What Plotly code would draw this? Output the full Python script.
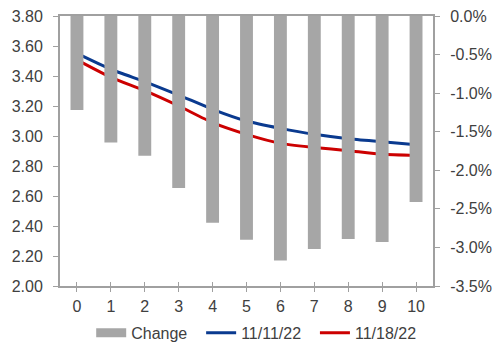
import plotly.graph_objects as go

# Tenor buckets (years) and the two yield curves plus their relative change
tenors = [0, 1, 2, 3, 4, 5, 6, 7, 8, 9, 10]
curve_1111 = [3.551, 3.445, 3.362, 3.273, 3.178, 3.100, 3.051, 3.011, 2.982, 2.962, 2.942]
curve_1118 = [3.507, 3.391, 3.302, 3.200, 3.089, 3.011, 2.951, 2.924, 2.902, 2.878, 2.871]
change_pct = [-1.22, -1.64, -1.81, -2.23, -2.68, -2.90, -3.17, -3.02, -2.89, -2.93, -2.41]

left_ticks = [2.0, 2.2, 2.4, 2.6, 2.8, 3.0, 3.2, 3.4, 3.6, 3.8]
right_ticks = [0.0, -0.5, -1.0, -1.5, -2.0, -2.5, -3.0, -3.5]

GRAY_BAR = "#A6A6A6"
BLUE = "#0A3A8F"
RED = "#CC0000"
AXIS = "#A0A0A0"
TEXT = "#404040"
FONT = "Liberation Sans, Arial, sans-serif"
FS = 16
PAD = "\u00a0\u00a0"  # extra room between legend entries

fig = go.Figure()

# Change bars hang from 0% on the right-hand axis
fig.add_trace(go.Bar(
    x=tenors, y=change_pct, xaxis="x", yaxis="y2",
    marker=dict(color=GRAY_BAR, line=dict(width=0)),
    width=0.38, showlegend=False, name="Change",
))

# Legend key for the bars, drawn as a wide block like the line keys
fig.add_trace(go.Scatter(
    x=[None], y=[None], mode="lines", xaxis="x2", yaxis="y",
    line=dict(color=GRAY_BAR, width=9), name="Change" + PAD,
))

fig.add_trace(go.Scatter(
    x=tenors, y=curve_1111, mode="lines", xaxis="x", yaxis="y",
    line=dict(color=BLUE, width=3, shape="spline", smoothing=0.6),
    name="11/11/22" + PAD,
))
fig.add_trace(go.Scatter(
    x=tenors, y=curve_1118, mode="lines", xaxis="x", yaxis="y",
    line=dict(color=RED, width=3, shape="spline", smoothing=0.6),
    name="11/18/22",
))

fig.update_layout(
    width=495, height=345,
    margin=dict(l=60, r=62, t=16, b=59, autoexpand=False),
    paper_bgcolor="white", plot_bgcolor="rgba(0,0,0,0)",
    font=dict(family=FONT, size=FS, color=TEXT),
    xaxis=dict(
        range=[-0.5, 10.5], tickmode="array", tickvals=tenors,
        ticktext=[str(t) for t in tenors],
        showgrid=False, zeroline=False, automargin=False,
        showline=True, linecolor=AXIS, linewidth=2, mirror=True,
        ticks="outside", ticklen=4, tickcolor=AXIS, tickwidth=1,
        ticklabelstandoff=1,
        tickfont=dict(size=FS, color=TEXT),
    ),
    # second x axis only supplies the inward half of the crossing ticks
    xaxis2=dict(
        overlaying="x", matches="x", range=[-0.5, 10.5],
        tickmode="array", tickvals=tenors, showticklabels=False,
        showgrid=False, zeroline=False, showline=False, automargin=False,
        ticks="inside", ticklen=4, tickcolor=AXIS, tickwidth=1,
    ),
    yaxis=dict(
        range=[2.0, 3.8], tickmode="array", tickvals=left_ticks,
        ticktext=[f"{v:.2f}" for v in left_ticks],
        showgrid=False, zeroline=False, automargin=False,
        showline=True, linecolor=AXIS, linewidth=2,
        ticks="outside", ticklen=5, tickcolor=AXIS, tickwidth=1,
        ticklabelstandoff=7,
        tickfont=dict(size=FS, color=TEXT),
    ),
    yaxis2=dict(
        overlaying="y", side="right",
        range=[-3.5, 0.0], tickmode="array", tickvals=right_ticks,
        ticktext=[f"{v:.1f}%" for v in right_ticks],
        showgrid=False, zeroline=False, automargin=False,
        showline=True, linecolor=AXIS, linewidth=2,
        ticks="outside", ticklen=5, tickcolor=AXIS, tickwidth=1,
        ticklabelstandoff=7,
        tickfont=dict(size=FS, color=TEXT),
    ),
    legend=dict(
        orientation="h", x=0.526, xanchor="center",
        yref="container", y=0.035, yanchor="middle",
        font=dict(size=FS, color=TEXT), itemwidth=30,
        traceorder="normal", bgcolor="rgba(0,0,0,0)",
    ),
)

fig.write_html("out.html")
